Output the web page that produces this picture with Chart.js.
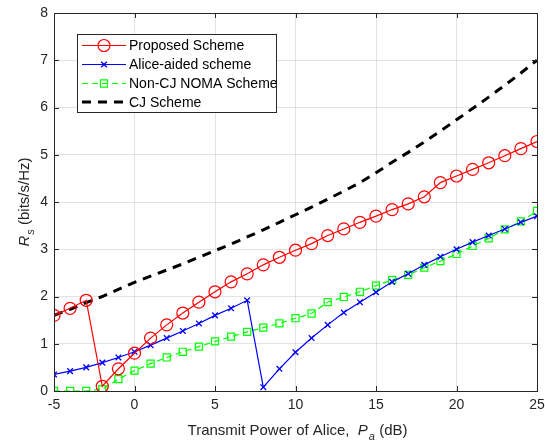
<!DOCTYPE html>
<html>
<head>
<meta charset="utf-8">
<script src="https://cdn.jsdelivr.net/npm/chart.js@4.4.1/dist/chart.umd.min.js"></script>
<style>
html,body{margin:0;padding:0;background:#fff;}
#wrap{width:545px;height:443px;position:relative;}
</style>
</head>
<body>
<div id="wrap"><canvas id="c" width="545" height="443"></canvas></div>
<script>
const powerDb = [-5,-4,-3,-2,-1,0,1,2,3,4,5,6,7,8,9,10,11,12,13,14,15,16,17,18,19,20,21,22,23,24,25];
const proposed = [1.60,1.75,1.92,0.10,0.47,0.80,1.12,1.40,1.65,1.88,2.10,2.31,2.48,2.67,2.83,2.98,3.12,3.29,3.43,3.57,3.70,3.84,3.96,4.11,4.41,4.55,4.69,4.83,4.98,5.13,5.28];
const aliceAided = [0.35,0.42,0.50,0.60,0.71,0.83,0.97,1.12,1.27,1.43,1.60,1.75,1.92,0.08,0.47,0.82,1.12,1.40,1.66,1.88,2.09,2.31,2.48,2.67,2.84,3.00,3.15,3.29,3.43,3.57,3.70];
const nonCjNoma = [0.00,0.00,0.00,0.04,0.25,0.43,0.58,0.71,0.83,0.94,1.05,1.15,1.25,1.34,1.43,1.54,1.64,1.88,1.99,2.10,2.23,2.35,2.46,2.61,2.75,2.90,3.07,3.23,3.42,3.59,3.81];
const cjScheme = [1.60,1.73,1.87,2.00,2.15,2.30,2.43,2.56,2.69,2.83,2.97,3.11,3.26,3.41,3.57,3.73,3.89,4.06,4.23,4.41,4.62,4.84,5.05,5.27,5.50,5.74,5.98,6.22,6.47,6.73,7.00];
const seriesLabels = ['Proposed Scheme','Alice-aided scheme','Non-CJ NOMA Scheme','CJ Scheme'];
const xTicks = [-5,0,5,10,15,20,25];
const yTicks = [0,1,2,3,4,5,6,7,8];

const FONT = '"Liberation Sans", Arial, Helvetica, sans-serif';
const AX = '#262626';

function pts(arr){ return powerDb.map((x,i)=>({x:x,y:arr[i]})); }

const datasets = [
  {label:seriesLabels[0], data:pts(proposed), borderColor:'#ff0000', backgroundColor:'rgba(0,0,0,0)',
   borderWidth:1.2, pointStyle:'circle', pointRadius:6, pointBorderWidth:1.2, pointBorderColor:'#ff0000', pointBackgroundColor:'rgba(0,0,0,0)'},
  {label:seriesLabels[1], data:pts(aliceAided), borderColor:'#0000ff', backgroundColor:'rgba(0,0,0,0)',
   borderWidth:1.2, pointStyle:'crossRot', pointRadius:4, pointBorderWidth:1.3, pointBorderColor:'#0000ff'},
  {label:seriesLabels[2], data:pts(nonCjNoma), borderColor:'#00ff00', backgroundColor:'rgba(0,0,0,0)',
   borderWidth:1.2, borderDash:[6,4], pointStyle:'rect', pointRadius:5, pointBorderWidth:1.2, pointBorderColor:'#00ff00', pointBackgroundColor:'rgba(0,0,0,0)'},
  {label:seriesLabels[3], data:pts(cjScheme), borderColor:'#000000', backgroundColor:'rgba(0,0,0,0)',
   borderWidth:3, borderDash:[9,7], pointRadius:0}
];

const matlabPlugin = {
  id:'matlab',
  afterDraw(chart){
    const ctx = chart.ctx, a = chart.chartArea;
    const xs = chart.scales.x, ys = chart.scales.y;
    ctx.save();
    ctx.strokeStyle = AX; ctx.lineWidth = 1;
    ctx.strokeRect(Math.round(a.left)+0.5, Math.round(a.top)+0.5, Math.round(a.right-a.left), Math.round(a.bottom-a.top));
    const tl = 5;
    ctx.beginPath();
    xTicks.forEach(v=>{ const px = Math.round(xs.getPixelForValue(v))+0.5;
      ctx.moveTo(px,a.bottom); ctx.lineTo(px,a.bottom-tl);
      ctx.moveTo(px,a.top); ctx.lineTo(px,a.top+tl); });
    yTicks.forEach(v=>{ const py = Math.round(ys.getPixelForValue(v))+0.5;
      ctx.moveTo(a.left,py); ctx.lineTo(a.left+tl,py);
      ctx.moveTo(a.right,py); ctx.lineTo(a.right-tl,py); });
    ctx.stroke();

    ctx.fillStyle = AX;
    ctx.textBaseline = 'alphabetic';
    const xt1 = 'Transmit Power of Alice,  ';
    ctx.font = '15px ' + FONT;
    const w1 = ctx.measureText(xt1).width;
    ctx.font = 'italic 15px ' + FONT;
    const wP = ctx.measureText('P').width;
    ctx.font = 'italic 11px ' + FONT;
    const wa = ctx.measureText('a').width;
    ctx.font = '15px ' + FONT;
    const w3 = ctx.measureText(' (dB)').width;
    const total = w1 + wP + wa + 1 + w3;
    let x0 = (a.left + a.right)/2 - total/2 + 2;
    const by = 435;
    ctx.textAlign = 'left';
    ctx.fillText(xt1, x0, by); x0 += w1;
    ctx.font = 'italic 15px ' + FONT; ctx.fillText('P', x0, by); x0 += wP;
    ctx.font = 'italic 11px ' + FONT; ctx.fillText('a', x0+1, by+5); x0 += wa + 1;
    ctx.font = '15px ' + FONT; ctx.fillText(' (dB)', x0, by);

    ctx.save();
    ctx.translate(29, 202);
    ctx.rotate(-Math.PI/2);
    ctx.font = 'italic 15px ' + FONT;
    const wR = ctx.measureText('R').width;
    ctx.font = 'italic 11px ' + FONT;
    const ws = ctx.measureText('s').width;
    ctx.font = '15px ' + FONT;
    const wb = ctx.measureText(' (bits/s/Hz)').width;
    let yx = -(wR + ws + 1 + wb)/2;
    ctx.font = 'italic 15px ' + FONT; ctx.fillText('R', yx, 0); yx += wR;
    ctx.font = 'italic 11px ' + FONT; ctx.fillText('s', yx+1, 5); yx += ws + 1;
    ctx.font = '15px ' + FONT; ctx.fillText(' (bits/s/Hz)', yx, 0);
    ctx.restore();

    const lx = 77.5, ly = 34.5, lw = 199, lh = 78;
    ctx.fillStyle = '#ffffff';
    ctx.fillRect(lx, ly, lw, lh);
    ctx.strokeStyle = AX; ctx.lineWidth = 1;
    ctx.strokeRect(lx, ly, lw, lh);
    const rows = [45.5, 64.5, 83.5, 102];
    chart.data.datasets.forEach((ds,i)=>{
      const ry = rows[i];
      ctx.save();
      ctx.strokeStyle = ds.borderColor;
      ctx.lineWidth = ds.borderWidth;
      ctx.setLineDash(ds.borderDash ? ds.borderDash : []);
      ctx.beginPath(); ctx.moveTo(82, ry); ctx.lineTo(126, ry); ctx.stroke();
      ctx.setLineDash([]);
      if (ds.pointRadius > 0) {
        ctx.fillStyle = 'rgba(0,0,0,0)';
        ctx.lineWidth = ds.pointBorderWidth;
        ctx.strokeStyle = ds.pointBorderColor;
        Chart.helpers.drawPoint(ctx, {pointStyle: ds.pointStyle, radius: ds.pointRadius, borderWidth: ds.pointBorderWidth, rotation:0}, 104, ry);
      }
      ctx.restore();
      ctx.fillStyle = '#000';
      ctx.font = '14px ' + FONT;
      ctx.textAlign = 'left'; ctx.textBaseline = 'middle';
      ctx.fillText(ds.label, 129, ry + 1);
    });
    ctx.restore();
  }
};

new Chart(document.getElementById('c'), {
  type:'line',
  data:{datasets:datasets},
  options:{
    responsive:false, animation:false, devicePixelRatio:1,
    layout:{padding:{left:0, right:8, top:13, bottom:0}},
    plugins:{legend:{display:false}, tooltip:{enabled:false}},
    elements:{line:{tension:0}},
    scales:{
      x:{type:'linear', min:-5, max:25,
         afterBuildTicks:s=>{ s.ticks = xTicks.map(v=>({value:v})); },
         afterFit:s=>{ s.height = 52; s.paddingLeft = 0; s.paddingRight = 0; },
         grid:{color:'rgba(38,38,38,0.13)', drawTicks:false, lineWidth:1},
         border:{display:false},
         ticks:{color:AX, font:{family:FONT, size:14}, padding:6, maxRotation:0, autoSkip:false}},
      y:{type:'linear', min:0, max:8,
         afterBuildTicks:s=>{ s.ticks = yTicks.map(v=>({value:v})); },
         afterFit:s=>{ s.width = 54; s.paddingTop = 0; s.paddingBottom = 0; },
         grid:{color:'rgba(38,38,38,0.13)', drawTicks:false, lineWidth:1},
         border:{display:false},
         ticks:{color:AX, font:{family:FONT, size:14}, padding:6, autoSkip:false}}
    }
  },
  plugins:[matlabPlugin]
});
</script>
</body>
</html>
